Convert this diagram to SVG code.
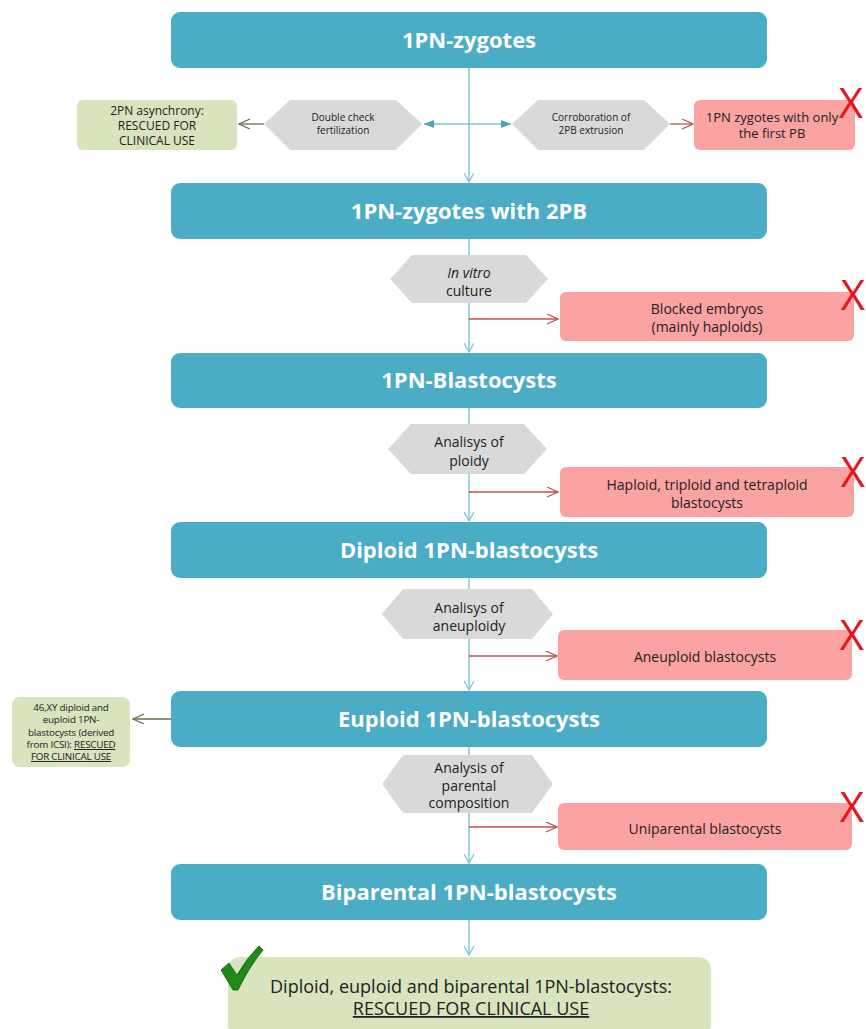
<svg xmlns="http://www.w3.org/2000/svg" width="866" height="1029" viewBox="0 0 866 1029">
<defs>
<style>
.main{fill:#4bacc6}
.mt{font-family:"Open Sans","DejaVu Sans",sans-serif;font-weight:bold;font-size:22px;fill:#fff;text-anchor:middle}
.hex{fill:#d9d9d9}
.red{fill:#fba3a3}
.grn{fill:#d7e4bd}
.t{font-family:"Open Sans","DejaVu Sans",sans-serif;fill:#222;text-anchor:middle}
.x{font-family:"Open Sans","DejaVu Sans",sans-serif;font-size:42px;fill:#e3161c;text-anchor:middle}
.bl{stroke:#7cc3d6;stroke-width:1.4;fill:none}
.rl{stroke:#c0504d;stroke-width:1.3;fill:none}
.ol{stroke:#6b6b48;stroke-width:1.3;fill:none}
</style>
<marker id="ab" markerWidth="12" markerHeight="12" refX="10" refY="5" orient="auto" markerUnits="userSpaceOnUse"><path d="M1,0 L10,5 L1,10" fill="none" stroke="#7cc3d6" stroke-width="1.3"/></marker>
<marker id="abf" markerWidth="12" markerHeight="12" refX="10" refY="5" orient="auto-start-reverse" markerUnits="userSpaceOnUse"><path d="M0,1 L10,5 L0,9 Z" fill="#4aa5bd"/></marker>
<marker id="ar" markerWidth="14" markerHeight="12" refX="12" refY="5" orient="auto" markerUnits="userSpaceOnUse"><path d="M1,0 L12,5 L1,10" fill="none" stroke="#c0504d" stroke-width="1.3"/></marker>
<marker id="ao" markerWidth="14" markerHeight="12" refX="12" refY="5" orient="auto" markerUnits="userSpaceOnUse"><path d="M1,0 L12,5 L1,10" fill="none" stroke="#6b6b48" stroke-width="1.3"/></marker>
</defs>
<rect width="866" height="1029" fill="#fff"/>
<g id="connectors">
<line class="bl" x1="469" y1="68" x2="469" y2="182" marker-end="url(#ab)"/>
<line class="bl" x1="424" y1="124" x2="511" y2="124" marker-start="url(#abf)" marker-end="url(#abf)"/>
<line class="ol" x1="264" y1="124" x2="239" y2="124" marker-end="url(#ao)"/>
<line class="rl" x1="670" y1="124" x2="693" y2="124" marker-end="url(#ar)"/>
<line class="bl" x1="469" y1="239" x2="469" y2="352" marker-end="url(#ab)"/>
<line class="rl" x1="469" y1="319" x2="558" y2="319" marker-end="url(#ar)"/>
<line class="bl" x1="469" y1="408" x2="469" y2="521" marker-end="url(#ab)"/>
<line class="rl" x1="469" y1="492" x2="558" y2="492" marker-end="url(#ar)"/>
<line class="bl" x1="469" y1="578" x2="469" y2="690" marker-end="url(#ab)"/>
<line class="rl" x1="469" y1="656" x2="557" y2="656" marker-end="url(#ar)"/>
<line class="ol" x1="171" y1="719" x2="133" y2="719" marker-end="url(#ao)"/>
<line class="bl" x1="469" y1="747" x2="469" y2="863" marker-end="url(#ab)"/>
<line class="rl" x1="469" y1="827" x2="557" y2="827" marker-end="url(#ar)"/>
<line class="bl" x1="469" y1="920" x2="469" y2="955" marker-end="url(#ab)"/>
</g>
<g id="n1"><rect class="main" x="171" y="12" width="596" height="56" rx="9"/><text class="mt" x="469" y="48">1PN-zygotes</text></g>
<g id="h1"><polygon class="hex" points="264,124 290,100 396,100 422,124 396,150 290,150"/><text class="t" font-size="10"><tspan x="343" y="121">Double check</tspan><tspan x="343" y="134">fertilization</tspan></text></g>
<g id="g1"><rect class="grn" x="77" y="100" width="160" height="50" rx="6"/><text class="t" font-size="12"><tspan x="157" y="115">2PN asynchrony:</tspan><tspan x="157" y="130">RESCUED FOR</tspan><tspan x="157" y="145">CLINICAL USE</tspan></text></g>
<g id="h2"><polygon class="hex" points="512,124 538,100 644,100 670,124 644,150 538,150"/><text class="t" font-size="10"><tspan x="591" y="121">Corroboration of</tspan><tspan x="591" y="134">2PB extrusion</tspan></text></g>
<g id="r1"><rect class="red" x="694" y="100" width="161" height="50" rx="6"/><text class="t" font-size="13"><tspan x="772" y="122">1PN zygotes with only</tspan><tspan x="772" y="138">the first PB</tspan></text><text class="x" x="851" y="118">X</text></g>
<g id="n2"><rect class="main" x="171" y="183" width="596" height="56" rx="9"/><text class="mt" x="469" y="219">1PN-zygotes with 2PB</text></g>
<g id="h3"><polygon class="hex" points="390,279 412,255 526,255 548,279 526,303 412,303"/><text class="t" font-size="14"><tspan x="469" y="278" font-style="italic">In vitro</tspan><tspan x="469" y="296">culture</tspan></text></g>
<g id="r2"><rect class="red" x="560" y="292" width="294" height="49" rx="6"/><text class="t" font-size="14"><tspan x="707" y="314">Blocked embryos</tspan><tspan x="707" y="332">(mainly haploids)</tspan></text><text class="x" x="853" y="310">X</text></g>
<g id="n3"><rect class="main" x="171" y="353" width="596" height="55" rx="9"/><text class="mt" x="469" y="388">1PN-Blastocysts</text></g>
<g id="h4"><polygon class="hex" points="388,449 411,424 524,424 547,449 524,474 411,474"/><text class="t" font-size="14"><tspan x="469" y="447">Analisys of</tspan><tspan x="469" y="466">ploidy</tspan></text></g>
<g id="r3"><rect class="red" x="560" y="467" width="294" height="50" rx="6"/><text class="t" font-size="14"><tspan x="707" y="490">Haploid, triploid and tetraploid</tspan><tspan x="707" y="508">blastocysts</tspan></text><text class="x" x="853" y="487">X</text></g>
<g id="n4"><rect class="main" x="171" y="522" width="596" height="56" rx="9"/><text class="mt" x="469" y="558">Diploid 1PN-blastocysts</text></g>
<g id="h5"><polygon class="hex" points="382,614 403,589 532,589 553,614 532,639 403,639"/><text class="t" font-size="14"><tspan x="469" y="613">Analisys of</tspan><tspan x="469" y="631">aneuploidy</tspan></text></g>
<g id="r4"><rect class="red" x="558" y="630" width="294" height="50" rx="6"/><text class="t" font-size="14"><tspan x="705" y="662">Aneuploid blastocysts</tspan></text><text class="x" x="852" y="650">X</text></g>
<g id="n5"><rect class="main" x="171" y="691" width="596" height="56" rx="9"/><text class="mt" x="469" y="727">Euploid 1PN-blastocysts</text></g>
<g id="g2"><rect class="grn" x="12" y="697" width="118" height="70" rx="8"/><text class="t" font-size="9.8" letter-spacing="-0.2"><tspan x="71" y="711">46,XY diploid and</tspan><tspan x="71" y="723">euploid 1PN-</tspan><tspan x="71" y="736">blastocysts (derived</tspan><tspan x="71" y="748">from ICSI): <tspan text-decoration="underline">RESCUED</tspan></tspan><tspan x="71" y="760" text-decoration="underline">FOR CLINICAL USE</tspan></text></g>
<g id="h6"><polygon class="hex" points="382,784 403,755 532,755 553,784 532,813 403,813"/><text class="t" font-size="14"><tspan x="469" y="773">Analysis of</tspan><tspan x="469" y="791">parental</tspan><tspan x="469" y="808">composition</tspan></text></g>
<g id="r5"><rect class="red" x="558" y="803" width="294" height="47" rx="6"/><text class="t" font-size="14"><tspan x="705" y="834">Uniparental blastocysts</tspan></text><text class="x" x="852" y="822">X</text></g>
<g id="n6"><rect class="main" x="171" y="864" width="596" height="56" rx="9"/><text class="mt" x="469" y="900">Biparental 1PN-blastocysts</text></g>
<g id="final"><rect class="grn" x="228" y="957" width="483" height="80" rx="12"/><text class="t" font-size="18"><tspan x="471" y="993">Diploid, euploid and biparental 1PN-blastocysts:</tspan><tspan x="471" y="1015" text-decoration="underline">RESCUED FOR CLINICAL USE</tspan></text>
<path d="M221,970 L229,963 L237,975 Q247,958 259,946 L263,950 Q249,967 238,990 L233,990 Z" fill="#1f8a1a" stroke="#0f5c0d" stroke-width="0.8"/></g>
</svg>
